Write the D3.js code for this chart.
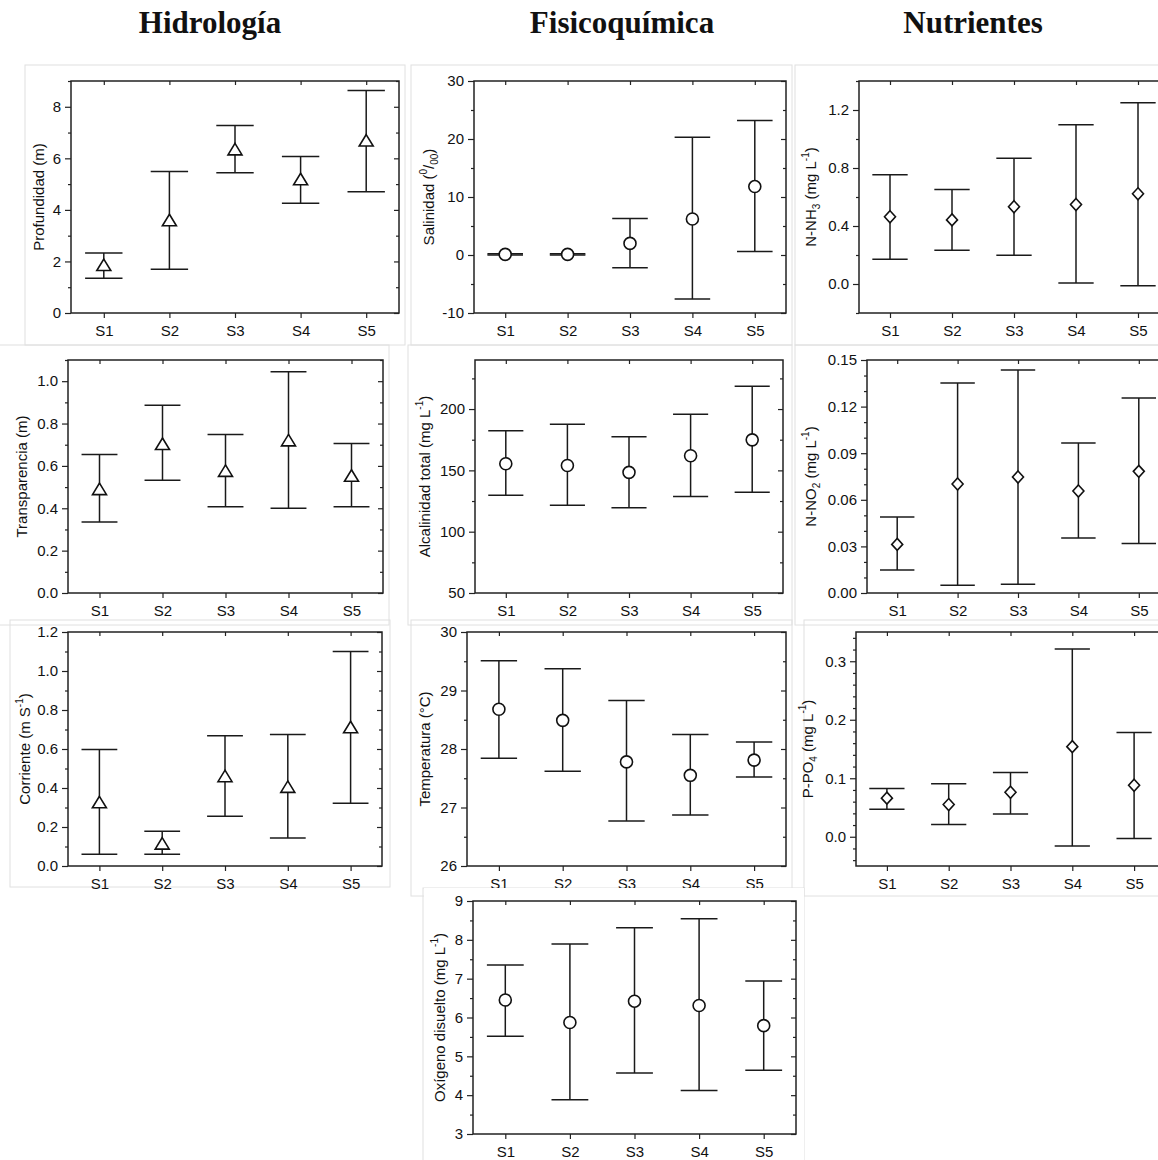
<!DOCTYPE html>
<html>
<head>
<meta charset="utf-8">
<script src="https://cdn.jsdelivr.net/npm/d3@7"></script>
<style>
  body { margin: 0; background: #fff; }
  svg { display: block; }
</style>
</head>
<body>
<svg id="chart"></svg>
<script>
// estaciones
const stations = ['S1', 'S2', 'S3', 'S4', 'S5']
const groupTitles = ['Hidrología', 'Fisicoquímica', 'Nutrientes']

// Hidrología
const profMean = [1.84, 3.58, 6.33, 5.17, 6.67]
const profLow = [1.35, 1.70, 5.44, 4.26, 4.70]
const profHigh = [2.33, 5.49, 7.27, 6.07, 8.63]
const profTicks = [0, 2, 4, 6, 8]

const transMean = [0.488, 0.701, 0.574, 0.718, 0.551]
const transLow = [0.335, 0.532, 0.407, 0.400, 0.407]
const transHigh = [0.654, 0.886, 0.748, 1.044, 0.706]
const transTicks = [0, 0.2, 0.4, 0.6, 0.8, 1.0]

const corrMean = [0.324, 0.112, 0.458, 0.403, 0.709]
const corrLow = [0.060, 0.060, 0.255, 0.144, 0.322]
const corrHigh = [0.598, 0.178, 0.668, 0.675, 1.100]
const corrTicks = [0, 0.2, 0.4, 0.6, 0.8, 1.0, 1.2]

// Fisicoquímica
const salMean = [0.1, 0.1, 2.0, 6.2, 11.8]
const salLow = [0.0, 0.0, -2.2, -7.6, 0.6]
const salHigh = [0.2, 0.2, 6.3, 20.3, 23.2]
const salTicks = [-10, 0, 10, 20, 30]

const alcMean = [155.4, 154.0, 148.4, 161.9, 174.9]
const alcLow = [129.7, 121.6, 119.5, 128.6, 132.1]
const alcHigh = [182.4, 187.6, 177.5, 195.7, 218.6]
const alcTicks = [50, 100, 150, 200]

const tempMean = [28.68, 28.49, 27.78, 27.55, 27.81]
const tempLow = [27.84, 27.62, 26.77, 26.87, 27.52]
const tempHigh = [29.51, 29.37, 28.83, 28.25, 28.12]
const tempTicks = [26, 27, 28, 29, 30]

const oxiMean = [6.45, 5.87, 6.42, 6.31, 5.79]
const oxiLow = [5.52, 3.88, 4.57, 4.12, 4.64]
const oxiHigh = [7.35, 7.89, 8.31, 8.54, 6.94]
const oxiTicks = [3, 4, 5, 6, 7, 8, 9]

// Nutrientes
const nh3Mean = [0.464, 0.442, 0.533, 0.548, 0.622]
const nh3Low = [0.171, 0.232, 0.198, 0.007, -0.012]
const nh3High = [0.753, 0.651, 0.867, 1.098, 1.250]
const nh3Ticks = [0, 0.4, 0.8, 1.2]

const no2Mean = [0.0313, 0.0702, 0.0747, 0.0657, 0.0783]
const no2Low = [0.0148, 0.0050, 0.0056, 0.0354, 0.0318]
const no2High = [0.0489, 0.1352, 0.1436, 0.0966, 0.1255]
const no2Ticks = [0, 0.03, 0.06, 0.09, 0.12, 0.15]

const po4Mean = [0.066, 0.055, 0.076, 0.154, 0.088]
const po4Low = [0.047, 0.021, 0.039, -0.016, -0.003]
const po4High = [0.0825, 0.0905, 0.110, 0.321, 0.178]
const po4Ticks = [0, 0.1, 0.2, 0.3]

let width = 1158
let height = 1160
let fontFamily = '"Liberation Sans", Arial, sans-serif'

let svg = d3.select('#chart')
    .attr('width', width)
    .attr('height', height)
    .style('font-family', fontFamily)

// layout of every panel (plot box in page pixels)
let panels = [
    { mean: profMean, low: profLow, high: profHigh, ticks: profTicks, domain: [0, 9], minor: 1, dec: 0, marker: 'tri',
      label: [['Profundidad (m)']], x: 71, y: 81, w: 328, h: 232, tx: 40 },
    { mean: transMean, low: transLow, high: transHigh, ticks: transTicks, domain: [0, 1.1], minor: 0.1, dec: 1, marker: 'tri',
      label: [['Transparencia (m)']], x: 68, y: 360, w: 315, h: 233, tx: 23 },
    { mean: corrMean, low: corrLow, high: corrHigh, ticks: corrTicks, domain: [0, 1.2], minor: 0.1, dec: 1, marker: 'tri',
      label: [['Corriente (m S'], ['-1', 'sup'], [')']], x: 68, y: 632, w: 314, h: 234, tx: 26 },
    { mean: salMean, low: salLow, high: salHigh, ticks: salTicks, domain: [-10, 30], minor: 5, dec: 0, marker: 'circle',
      label: [['Salinidad ('], ['0', 'sup'], ['/'], ['00', 'sub'], [')']], x: 474, y: 81, w: 312, h: 232, tx: 430 },
    { mean: alcMean, low: alcLow, high: alcHigh, ticks: alcTicks, domain: [50, 240], minor: 25, dec: 0, marker: 'circle',
      label: [['Alcalinidad total (mg L'], ['-1', 'sup'], [')']], x: 475, y: 360, w: 308, h: 233, tx: 426 },
    { mean: tempMean, low: tempLow, high: tempHigh, ticks: tempTicks, domain: [26, 30], minor: 0.5, dec: 0, marker: 'circle',
      label: [['Temperatura (°C)']], x: 467, y: 632, w: 319, h: 234, tx: 426 },
    { mean: oxiMean, low: oxiLow, high: oxiHigh, ticks: oxiTicks, domain: [3, 9], minor: 0.5, dec: 0, marker: 'circle',
      label: [['Oxígeno disuelto (mg L'], ['-1', 'sup'], [')']], x: 473, y: 901, w: 323, h: 233, tx: 441, cover: true },
    { mean: nh3Mean, low: nh3Low, high: nh3High, ticks: nh3Ticks, domain: [-0.2, 1.4], minor: 0.2, dec: 1, marker: 'diamond',
      label: [['N-NH'], ['3', 'sub'], [' (mg L'], ['-1', 'sup'], [')']], x: 859, y: 81, w: 310, h: 232, tx: 812 },
    { mean: no2Mean, low: no2Low, high: no2High, ticks: no2Ticks, domain: [0, 0.15], minor: 0.01, dec: 2, marker: 'diamond',
      label: [['N-NO'], ['2', 'sub'], [' (mg L'], ['-1', 'sup'], [')']], x: 867, y: 360, w: 302, h: 233, tx: 812 },
    { mean: po4Mean, low: po4Low, high: po4High, ticks: po4Ticks, domain: [-0.05, 0.35], minor: 0.02, dec: 1, marker: 'diamond',
      label: [['P-PO'], ['4', 'sub'], [' (mg L'], ['-1', 'sup'], [')']], x: 856, y: 632, w: 309, h: 234, tx: 809 }
]

// faint borders of the pasted figure pieces
let pieceBorders = [
    [25, 65, 405, 345], [411, 65, 792, 345], [795, 65, 1170, 345],
    [-5, 345, 389, 625], [408, 345, 792, 625], [795, 345, 1170, 625],
    [10, 620, 390, 887], [411, 620, 792, 896], [804, 620, 1170, 896],
    [423, 888, 804, 1170]
]

svg.append('g')
    .selectAll('rect')
    .data(pieceBorders)
    .enter()
    .append('rect')
    .attr('x', (d) => d[0])
    .attr('y', (d) => d[1])
    .attr('width', (d) => d[2] - d[0])
    .attr('height', (d) => d[3] - d[1])
    .attr('fill', 'none')
    .attr('stroke', '#e0e0e0')
    .attr('stroke-width', 1)

// group headings
let titleX = [210, 622, 973]
svg.selectAll('text.group')
    .data(groupTitles)
    .enter()
    .append('text')
    .attr('class', 'group')
    .attr('x', (d, i) => titleX[i])
    .attr('y', 33)
    .attr('text-anchor', 'middle')
    .style('font-family', '"Liberation Serif", "Times New Roman", serif')
    .style('font-weight', 'bold')
    .style('font-size', '31px')
    .attr('fill', '#111')
    .text((d) => d)

let styleTicks = (a) => {
    a.select('.domain').remove()
    a.attr('font-family', fontFamily).attr('font-size', 15)
    a.selectAll('text').attr('fill', '#111')
}

let drawPanel = (p) => {
    if (p.cover) {
        // the lower piece overlaps the labels of the panel above it
        svg.append('rect')
            .attr('x', 424).attr('y', 888)
            .attr('width', 380).attr('height', 272)
            .attr('fill', '#fff')
    }

    let g = svg.append('g')
        .attr('transform', 'translate(' + p.x + ',' + p.y + ')')

    let xScale = d3.scalePoint()
        .domain(stations)
        .range([0, p.w])
        .padding(0.5)

    let yScale = d3.scaleLinear()
        .domain(p.domain)
        .range([p.h, 0])

    let minorTicks = d3.range(Math.ceil(p.domain[0] / p.minor - 1e-6), Math.floor(p.domain[1] / p.minor + 1e-6) + 1)
        .map((k) => +(k * p.minor).toFixed(6))
        .filter((v) => !p.ticks.some((t) => Math.abs(t - v) < 1e-6))

    let fmt = (d) => d.toFixed(p.dec)

    // left axis
    g.append('g')
        .call(d3.axisLeft(yScale).tickValues(p.ticks).tickSize(6).tickPadding(4).tickFormat(fmt))
        .call(styleTicks)
    g.append('g')
        .call(d3.axisLeft(yScale).tickValues(minorTicks).tickSize(3).tickFormat(''))
        .call(styleTicks)

    // right mirror ticks (inward)
    g.append('g')
        .attr('transform', 'translate(' + p.w + ',0)')
        .call(d3.axisLeft(yScale).tickValues(p.ticks).tickSize(5).tickFormat(''))
        .call(styleTicks)
    g.append('g')
        .attr('transform', 'translate(' + p.w + ',0)')
        .call(d3.axisLeft(yScale).tickValues(minorTicks).tickSize(3).tickFormat(''))
        .call(styleTicks)

    // bottom axis
    g.append('g')
        .attr('transform', 'translate(0,' + p.h + ')')
        .call(d3.axisBottom(xScale).tickSize(5).tickPadding(7))
        .call(styleTicks)

    // top mirror ticks
    g.append('g')
        .call(d3.axisBottom(xScale).tickSize(4).tickFormat(''))
        .call(styleTicks)

    g.selectAll('.tick line').attr('stroke', '#222').attr('stroke-width', 1.2)

    // frame
    g.append('rect')
        .attr('width', p.w)
        .attr('height', p.h)
        .attr('fill', 'none')
        .attr('stroke', '#222')
        .attr('stroke-width', 1.5)

    let rows = stations.map((s, i) => ({ s: s, mean: p.mean[i], low: p.low[i], high: p.high[i] }))
    let capHalf = xScale.step() * 0.285

    let bars = g.append('g')
        .attr('stroke', '#1a1a1a')
        .attr('stroke-width', 1.5)

    bars.selectAll('line.stem')
        .data(rows)
        .enter()
        .append('line')
        .attr('class', 'stem')
        .attr('x1', (d) => xScale(d.s))
        .attr('x2', (d) => xScale(d.s))
        .attr('y1', (d) => yScale(d.low))
        .attr('y2', (d) => yScale(d.high))

    bars.selectAll('line.capHigh')
        .data(rows)
        .enter()
        .append('line')
        .attr('class', 'capHigh')
        .attr('x1', (d) => xScale(d.s) - capHalf)
        .attr('x2', (d) => xScale(d.s) + capHalf)
        .attr('y1', (d) => yScale(d.high))
        .attr('y2', (d) => yScale(d.high))

    bars.selectAll('line.capLow')
        .data(rows)
        .enter()
        .append('line')
        .attr('class', 'capLow')
        .attr('x1', (d) => xScale(d.s) - capHalf)
        .attr('x2', (d) => xScale(d.s) + capHalf)
        .attr('y1', (d) => yScale(d.low))
        .attr('y2', (d) => yScale(d.low))

    let shapes = {
        tri: 'M0,-6.5L7,5L-7,5Z',
        diamond: 'M0,-6L5.5,0L0,6L-5.5,0Z',
        circle: d3.symbol(d3.symbolCircle, 113)()
    }

    g.append('g')
        .selectAll('path')
        .data(rows)
        .enter()
        .append('path')
        .attr('d', shapes[p.marker])
        .attr('transform', (d) => 'translate(' + xScale(d.s) + ',' + yScale(d.mean) + ')')
        .attr('fill', '#fff')
        .attr('stroke', '#111')
        .attr('stroke-width', 1.6)

    // y title with sub / superscripts
    let title = svg.append('text')
        .attr('transform', 'translate(' + p.tx + ',' + (p.y + p.h / 2) + ') rotate(-90)')
        .attr('text-anchor', 'middle')
        .attr('dominant-baseline', 'middle')
        .style('font-size', '15px')
        .attr('fill', '#111')

    p.label.forEach((part) => {
        let t = title.append('tspan').text(part[0])
        if (part[1] == 'sup') {
            t.attr('baseline-shift', 'super').style('font-size', '10px')
        } else if (part[1] == 'sub') {
            t.attr('baseline-shift', 'sub').style('font-size', '10px')
        }
    })
}

panels.forEach((p) => drawPanel(p))
</script>
</body>
</html>
